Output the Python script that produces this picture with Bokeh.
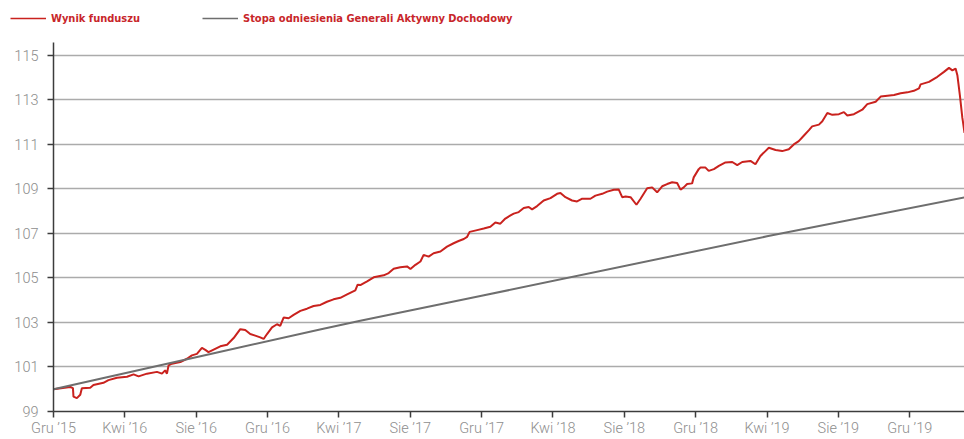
from bokeh.plotting import figure
from bokeh.models import Range1d, FixedTicker, Legend, LegendItem
from bokeh.embed import file_html
from bokeh.resources import INLINE

# Months since December 2015
months = [0.00, 0.94, 1.09, 1.12, 1.31, 1.50, 1.59, 2.06, 2.24, 2.80, 3.08, 3.56, 4.12, 4.49,
          4.77, 5.24, 5.80, 6.08, 6.26, 6.36, 6.45, 6.64, 7.11, 7.48, 7.76, 8.04, 8.32, 8.51,
          8.69, 9.35, 9.73, 10.10, 10.47, 10.75, 11.03, 11.31, 11.59, 11.78, 11.97, 12.25,
          12.53, 12.71, 12.90, 13.18, 13.46, 13.84, 14.21, 14.58, 14.96, 15.33, 15.70, 16.08,
          16.46, 16.92, 17.05, 17.20, 17.58, 17.95, 18.51, 18.79, 19.07, 19.44, 19.82, 20.01,
          20.29, 20.57, 20.75, 21.03, 21.31, 21.69, 22.06, 22.43, 22.71, 23.00, 23.19, 23.33,
          23.75, 24.12, 24.49, 24.77, 25.05, 25.33, 25.62, 25.80, 26.08, 26.36, 26.64, 26.83,
          27.11, 27.48, 27.86, 28.23, 28.42, 28.70, 29.07, 29.35, 29.64, 30.10, 30.38, 30.76,
          31.04, 31.41, 31.69, 31.88, 32.07, 32.35, 32.68, 32.91, 33.28, 33.56, 33.84, 34.12,
          34.40, 34.68, 34.96, 35.15, 35.33, 35.52, 35.80, 35.89, 36.17, 36.27, 36.55, 36.73,
          37.02, 37.30, 37.67, 38.05, 38.33, 38.61, 39.07, 39.35, 39.63, 39.91, 40.10, 40.48,
          40.85, 41.22, 41.50, 41.78, 42.07, 42.35, 42.53, 42.91, 43.10, 43.38, 43.66, 44.03,
          44.31, 44.50, 44.87, 45.34, 45.62, 46.09, 46.37, 46.75, 47.12, 47.49, 47.87, 48.23,
          48.52, 48.61, 49.08, 49.55, 49.92, 50.20, 50.39, 50.57, 50.67, 50.81, 50.95, 50.98,
          51.07]
fund = [100.00, 100.10, 100.05, 99.67, 99.60, 99.75, 100.04, 100.07, 100.19, 100.29, 100.41,
        100.52, 100.56, 100.67, 100.58, 100.70, 100.78, 100.70, 100.85, 100.70, 101.07, 101.15,
        101.22, 101.37, 101.52, 101.59, 101.86, 101.77, 101.67, 101.93, 102.00, 102.30, 102.70,
        102.66, 102.48, 102.41, 102.33, 102.26, 102.48, 102.78, 102.92, 102.85, 103.22, 103.19,
        103.34, 103.52, 103.62, 103.74, 103.79, 103.93, 104.04, 104.11, 104.26, 104.44, 104.70,
        104.68, 104.85, 105.03, 105.12, 105.22, 105.41, 105.48, 105.52, 105.40, 105.59, 105.74,
        106.04, 105.96, 106.11, 106.19, 106.41, 106.56, 106.66, 106.75, 106.85, 107.07, 107.15,
        107.22, 107.30, 107.49, 107.44, 107.67, 107.81, 107.89, 107.96, 108.14, 108.19, 108.08,
        108.23, 108.48, 108.59, 108.78, 108.82, 108.63, 108.48, 108.44, 108.56, 108.56, 108.70,
        108.78, 108.88, 108.96, 108.97, 108.63, 108.66, 108.63, 108.29, 108.56, 109.03, 109.07,
        108.85, 109.12, 109.22, 109.30, 109.27, 108.97, 109.07, 109.22, 109.25, 109.52, 109.89,
        109.96, 109.96, 109.81, 109.89, 110.04, 110.19, 110.21, 110.07, 110.21, 110.26, 110.11,
        110.48, 110.70, 110.85, 110.75, 110.70, 110.78, 111.00, 111.15, 111.40, 111.64, 111.81,
        111.89, 112.04, 112.41, 112.33, 112.36, 112.45, 112.30, 112.36, 112.56, 112.81, 112.92,
        113.15, 113.19, 113.22, 113.30, 113.34, 113.41, 113.52, 113.70, 113.81, 114.04, 114.26,
        114.44, 114.33, 114.41, 114.11, 113.22, 112.19, 112.04, 111.52]

bench_months = [0.0, 8.8, 15.0, 17.2, 24.0, 40.0, 51.07]
bench = [100.0, 101.58, 102.70, 103.08, 104.20, 106.87, 108.62]

tick_months = [0, 4, 8, 12, 16, 20, 24, 28, 32, 36, 40, 44, 48]
tick_labels = ["Gru \u201915", "Kwi \u201916", "Sie \u201916", "Gru \u201916", "Kwi \u201917",
               "Sie \u201917", "Gru \u201917", "Kwi \u201918", "Sie \u201918", "Gru \u201918",
               "Kwi \u201919", "Sie \u201919", "Gru \u201919"]
y_ticks = [99, 101, 103, 105, 107, 109, 111, 113, 115]

series_names = ["Wynik funduszu", "Stopa odniesienia Generali Aktywny Dochodowy"]

RED = "#c9221e"
GRAY = "#6e6e6e"
TEXT_RED = "#c8262a"
LABEL_GRAY = "#8e8e8e"
TICK_FONT = "'Roboto Light', 'Liberation Sans', sans-serif"
LEGEND_FONT = "'Liberation Sans Narrow', 'DejaVu Sans Condensed', 'Roboto Condensed', 'Liberation Sans', sans-serif"

W = 964
LEG_H = 42
MAIN_H = 397
BB, BL = 26, 53

# ---- legend strip (separate root, so its frame is not aligned with the chart) ----
lp = figure(width=W, height=LEG_H, output_backend="svg", toolbar_location=None,
            x_range=Range1d(0, 1), y_range=Range1d(0, 1),
            x_axis_type=None, y_axis_type=None,
            min_border_left=0, min_border_right=0, min_border_top=0, min_border_bottom=0)
lp.outline_line_color = None
lp.xgrid.visible = False
lp.ygrid.visible = False
# series drawn outside this strip's view: only their legend samples are visible
k_fund = lp.line(months, fund, line_color=RED, line_width=1.6)
k_bench = lp.line(bench_months, bench, line_color=GRAY, line_width=1.6)

legend_kw = dict(orientation="horizontal", padding=0, margin=0, spacing=0,
                 border_line_color=None, background_fill_alpha=0,
                 glyph_width=36, glyph_height=16, label_height=16, label_standoff=5,
                 label_text_font=LEGEND_FONT, label_text_font_style="bold",
                 label_text_font_size="11px", label_text_color=TEXT_RED)
leg1 = Legend(items=[LegendItem(label=series_names[0], renderers=[k_fund])],
              location=(10, 16), **legend_kw)
leg2 = Legend(items=[LegendItem(label=series_names[1], renderers=[k_bench])],
              location=(202, 16), **legend_kw)
lp.add_layout(leg1, "center")
lp.add_layout(leg2, "center")

# ---- main chart ----
p = figure(width=W, height=MAIN_H, output_backend="svg", toolbar_location=None,
           x_range=Range1d(0, 51.07), y_range=Range1d(99, 115.58),
           min_border_left=BL, min_border_right=0, min_border_top=0, min_border_bottom=BB)
p.outline_line_color = None
p.background_fill_color = "white"
p.border_fill_color = "white"

p.line(months, fund, line_color=RED, line_width=2)
p.line(bench_months, bench, line_color=GRAY, line_width=2)

p.xgrid.visible = False
p.ygrid.grid_line_color = "#ababab"
p.ygrid.grid_line_width = 1.5

p.xaxis.ticker = FixedTicker(ticks=tick_months)
p.xaxis.major_label_overrides = {m: l for m, l in zip(tick_months, tick_labels)}
p.yaxis.ticker = FixedTicker(ticks=y_ticks)

for ax in (p.xaxis[0], p.yaxis[0]):
    ax.axis_line_color = "#3c3c3c"
    ax.axis_line_width = 1.5
    ax.major_tick_line_color = "#3c3c3c"
    ax.major_tick_line_width = 1.5
    ax.major_tick_in = 0
    ax.major_tick_out = 6
    ax.minor_tick_line_color = None
    ax.major_label_text_color = LABEL_GRAY
    ax.major_label_text_font = TICK_FONT
    ax.major_label_text_font_size = "14.5px"

p.xaxis.major_label_standoff = 2
p.yaxis.major_label_standoff = 9

open("out.html", "w").write(file_html([lp, p], INLINE))
